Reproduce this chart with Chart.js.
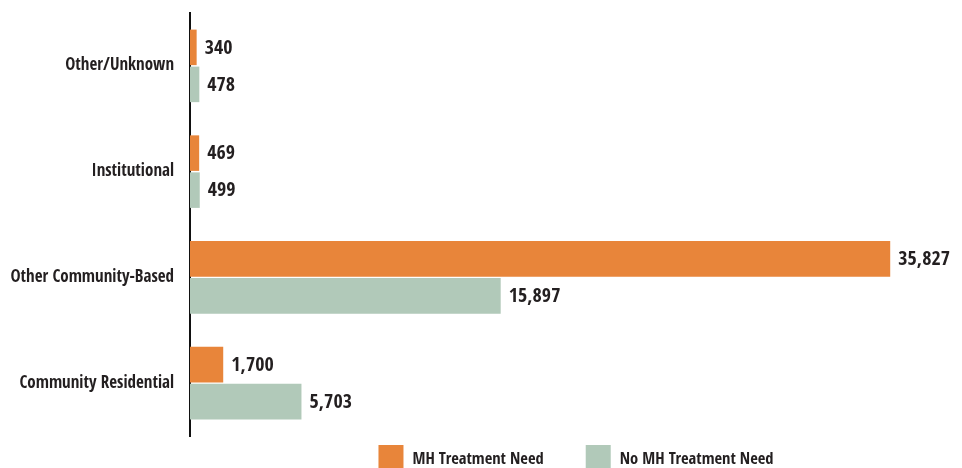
<!DOCTYPE html>
<html>
<head>
<meta charset="utf-8">
<script src="https://cdn.jsdelivr.net/npm/chart.js@4/dist/chart.umd.min.js"></script>
<style>
  html, body { margin: 0; padding: 0; background: #fff; }
  #wrap { width: 962px; height: 468px; position: relative; }
</style>
</head>
<body>
<div id="wrap"><canvas id="settingChart"></canvas></div>
<script>
const settings = ["Other/Unknown", "Institutional", "Other Community-Based", "Community Residential"];
const mhNeed = [340, 469, 35827, 1700];
const noMhNeed = [478, 499, 15897, 5703];

const orange = "#e8853a";
const sage = "#b1c9b9";
const ink = "#231f20";
const labelFont = "'Open Sans Condensed', 'Roboto Condensed', sans-serif";

// writes the count just past the end of each bar
const barValues = {
  id: "barValues",
  afterDatasetsDraw(chart) {
    const ctx = chart.ctx;
    ctx.save();
    ctx.fillStyle = ink;
    ctx.font = "bold 20px " + labelFont;
    ctx.textAlign = "left";
    ctx.textBaseline = "middle";
    chart.data.datasets.forEach((ds, i) => {
      chart.getDatasetMeta(i).data.forEach((bar, j) => {
        ctx.fillText(ds.data[j].toLocaleString("en-US"), bar.x + 8, bar.y + 1);
      });
    });
    ctx.restore();
  }
};

// legend row under the plot, centred on the plot area and running off the bottom edge
const bottomKey = {
  id: "bottomKey",
  afterDraw(chart) {
    const ctx = chart.ctx;
    const area = chart.chartArea;
    const box = 25, gap = 9, spacing = 42;
    ctx.save();
    ctx.font = "bold 16.5px " + labelFont;
    ctx.textBaseline = "middle";
    const items = chart.data.datasets.map(ds => ({
      text: ds.label, color: ds.backgroundColor, w: box + gap + ctx.measureText(ds.label).width
    }));
    const total = items.reduce((s, it) => s + it.w, 0) + spacing * (items.length - 1);
    let x = (area.left + area.right) / 2 - total / 2;
    const top = area.bottom + 9;
    items.forEach(it => {
      ctx.fillStyle = it.color;
      ctx.fillRect(x, top, box, 26);
      ctx.fillStyle = ink;
      ctx.fillText(it.text, x + box + gap, top + 15);
      x += it.w + spacing;
    });
    ctx.restore();
  }
};

new Chart(document.getElementById("settingChart"), {
  type: "bar",
  data: {
    labels: settings,
    datasets: [
      { label: "MH Treatment Need", data: mhNeed, backgroundColor: orange, borderWidth: 0 },
      { label: "No MH Treatment Need", data: noMhNeed, backgroundColor: sage, borderWidth: 0 }
    ]
  },
  options: {
    indexAxis: "y",
    responsive: true,
    maintainAspectRatio: false,
    animation: false,
    categoryPercentage: 0.7,
    barPercentage: 0.96,
    layout: { padding: { top: 13, right: 0, bottom: 32, left: 0 } },
    plugins: {
      tooltip: { enabled: false },
      legend: { display: false }
    },
    scales: {
      x: {
        display: false,
        min: 0,
        max: 39500
      },
      y: {
        afterFit(scale) {
          scale.width = 190;
          scale.paddingTop = 0;
          scale.paddingBottom = 0;
        },
        grid: { display: false, drawTicks: false },
        border: { display: true, color: "#111", width: 2 },
        ticks: {
          padding: 16,
          color: ink,
          font: { family: labelFont, size: 17, weight: "bold" }
        }
      }
    }
  },
  plugins: [barValues, bottomKey]
});
</script>
</body>
</html>
